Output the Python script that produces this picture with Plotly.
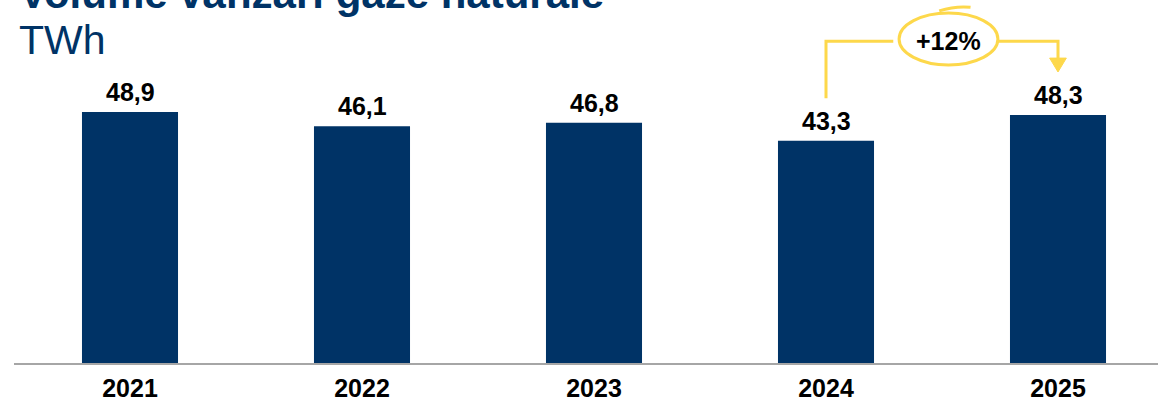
import plotly.graph_objects as go

years = [2021, 2022, 2023, 2024, 2025]
values = [48.9, 46.1, 46.8, 43.3, 48.3]
tick_labels = ["2021", "2022", "2023", "2024", "2025"]
title_text = "Volume vânzări gaze naturale"
unit_text = "TWh"
growth_text = "+12%"

NAVY = "#003366"
YELLOW = "#FDD84B"
FONT = "Liberation Sans, Arial"

fig = go.Figure()
fig.add_trace(go.Bar(
    x=years, y=values, width=0.414,
    marker=dict(color=NAVY, line=dict(width=0)),
    cliponaxis=False, hoverinfo="skip",
))

# growth bracket between 2024 and 2025
x_a, x_b = years[3], years[4]
y_top = 62.7
y_start = values[3] + 8.3
y_tip = values[4] + 8.4
y_head = values[4] + 11.1
ex0, ex1 = x_a + 0.315, x_a + 0.741
ecx = (ex0 + ex1) / 2
line_style = dict(color=YELLOW, width=3)

shapes = [
    dict(type="path", xref="x", yref="y",
         path=f"M {x_a},{y_start} L {x_a},{y_top} L {ex0 - 0.025},{y_top}",
         line=line_style),
    dict(type="path", xref="x", yref="y",
         path=f"M {ex1},{y_top} L {x_b},{y_top} L {x_b},{y_head}",
         line=line_style),
    dict(type="path", xref="x", yref="y",
         path=f"M {x_b - 0.036},{y_head} L {x_b + 0.036},{y_head} L {x_b},{y_tip} Z",
         fillcolor=YELLOW, line=dict(color=YELLOW, width=1)),
    dict(type="circle", xref="x", yref="y",
         x0=ex0, x1=ex1, y0=58.05, y1=68.2, line=line_style),
    dict(type="path", xref="x", yref="y",
         path=f"M {ecx - 0.04},{68.6} Q {ecx + 0.03},{69.6} {ecx + 0.095},{69.3}",
         line=line_style),
]

annotations = [
    dict(text=f"<b>{title_text}</b>", xref="paper", yref="paper", x=0, y=1.088,
         xanchor="left", yanchor="top", xshift=3, showarrow=False,
         font=dict(family=FONT, size=42, color=NAVY)),
    dict(text=unit_text, xref="paper", yref="paper", x=0, y=0.959,
         xanchor="left", yanchor="top", xshift=3, showarrow=False,
         font=dict(family=FONT, size=41, color=NAVY)),
    dict(text=f"<b>{growth_text}</b>", xref="x", yref="y", x=ecx, y=y_top,
         xanchor="center", yanchor="middle", showarrow=False,
         font=dict(family=FONT, size=25, color="#000000")),
]
for yr, v in zip(years, values):
    annotations.append(dict(
        text="<b>" + f"{v:.1f}".replace(".", ",") + "</b>",
        xref="x", yref="y", x=yr, y=v, xanchor="center", yanchor="bottom",
        yshift=4, showarrow=False,
        font=dict(family=FONT, size=25, color="#000000"),
    ))

fig.update_layout(
    width=1158, height=403,
    margin=dict(l=14, r=0, t=0, b=40, autoexpand=False),
    paper_bgcolor="#FFFFFF", plot_bgcolor="#FFFFFF",
    showlegend=False,
    shapes=shapes, annotations=annotations,
    xaxis=dict(range=[2020.5, 2020.5 + 1144 / 232], tickvals=years, ticktext=tick_labels,
               showgrid=False, zeroline=False, showline=True, linecolor="#A6A6A6", linewidth=2,
               ticks="", ticklen=0, ticklabelstandoff=2, automargin=False,
               tickfont=dict(family=FONT, size=25, color="#000000", weight="bold"),
               fixedrange=True),
    yaxis=dict(range=[0, 363 / 5.133], visible=False, showgrid=False, zeroline=False,
               automargin=False, fixedrange=True),
)

fig.write_html(
    "out.html",
    config={"displayModeBar": False},
    post_script="document.body.style.margin='0';document.body.style.overflow='hidden';",
)
